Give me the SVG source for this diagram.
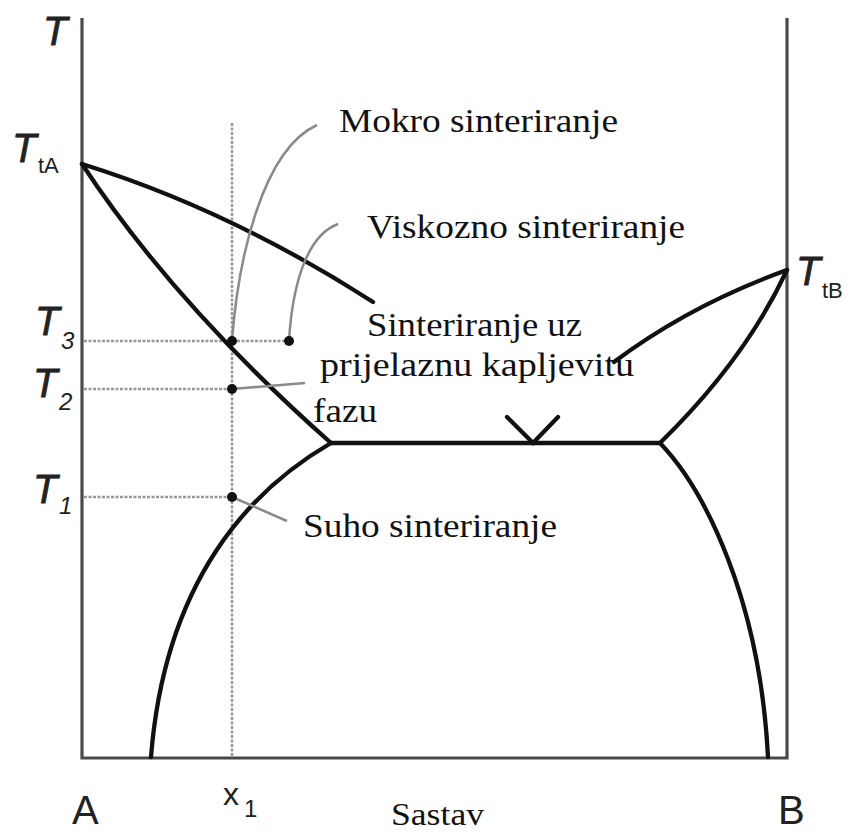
<svg xmlns="http://www.w3.org/2000/svg" width="851" height="833" viewBox="0 0 851 833">
<style>
.axis{stroke:#4a4a4a;stroke-width:3.2;fill:none}
.curve{stroke:#111;stroke-width:4.3;fill:none;stroke-linecap:round}
.dot-line{stroke:#999;stroke-width:2.5;stroke-dasharray:3,1.5;fill:none}
.leader{stroke:#8a8a8a;stroke-width:2.5;fill:none}
.lbl{font-family:"Liberation Serif","Times New Roman",serif;font-size:34px;fill:#111}
.tl{font-family:"Liberation Sans",Arial,sans-serif;font-style:italic;font-size:40px;fill:#222}
.tt{stroke:#222;stroke-width:0.8}
.sub{font-style:normal;font-size:22px;stroke:none}
.subi{font-size:24px;stroke:none}
.ax{font-family:"Liberation Sans",Arial,sans-serif;font-size:40px;fill:#222}
</style>
<rect width="851" height="833" fill="#fff"/>
<g id="axes">
<polyline class="axis" points="82,18 82,758 787,758 787,18"/>
</g>
<g id="guides">
<line class="dot-line" x1="232" y1="123" x2="232" y2="757"/>
<line class="dot-line" x1="84" y1="341" x2="289" y2="341"/>
<line class="dot-line" x1="84" y1="389" x2="232" y2="389"/>
<line class="dot-line" x1="84" y1="497" x2="232" y2="497"/>
</g>
<g id="phase-curves">
<path class="curve" d="M82,164 Q230,210 373,302"/>
<path class="curve" d="M82,164 Q175,305 331,443"/>
<line class="curve" x1="331" y1="443" x2="660" y2="443"/>
<polyline class="curve" points="507,417 533,443 558,417"/>
<path class="curve" d="M787,270 Q745,360 660,443"/>
<path class="curve" d="M787,270 Q690,305 614,362"/>
<path class="curve" d="M331,443 C250,490 165,580 151,757"/>
<path class="curve" d="M660,443 C705,490 760,600 768,757"/>
</g>
<g id="connectors">
<path class="leader" d="M232,341 C238,260 262,150 317,125"/>
<path class="leader" d="M289,341 C292,290 305,236 338,224"/>
<line class="leader" x1="232" y1="389" x2="305" y2="383"/>
<line class="leader" x1="232" y1="497" x2="287" y2="521"/>
</g>
<g id="points" fill="#111">
<circle cx="232" cy="341" r="5"/>
<circle cx="289" cy="341" r="5"/>
<circle cx="232" cy="389" r="5"/>
<circle cx="232" cy="497" r="5"/>
</g>
<g id="label-mokro"><text class="lbl" x="339" y="132" textLength="279" lengthAdjust="spacingAndGlyphs">Mokro sinteriranje</text></g>
<g id="label-viskozno"><text class="lbl" x="367" y="238" textLength="318" lengthAdjust="spacingAndGlyphs">Viskozno sinteriranje</text></g>
<g id="label-prijelazna">
<text class="lbl" x="367" y="336" textLength="215" lengthAdjust="spacingAndGlyphs">Sinteriranje uz</text>
<text class="lbl" x="320" y="376" textLength="314" lengthAdjust="spacingAndGlyphs">prijelaznu kapljevitu</text>
<text class="lbl" x="313" y="422" textLength="64" lengthAdjust="spacingAndGlyphs">fazu</text>
</g>
<g id="label-suho"><text class="lbl" x="303" y="537" textLength="254" lengthAdjust="spacingAndGlyphs">Suho sinteriranje</text></g>
<g id="axis-labels">
<text class="tl tt" x="43" y="45">T</text>
<text class="tl" x="12" y="162"><tspan class="tt">T</tspan><tspan class="sub" x="38" y="173">tA</tspan></text>
<text class="tl" x="796" y="285"><tspan class="tt">T</tspan><tspan class="sub" x="822" y="298">tB</tspan></text>
<text class="tl" x="35" y="335"><tspan class="tt">T</tspan><tspan class="subi" x="61" y="349">3</tspan></text>
<text class="tl" x="33" y="397"><tspan class="tt">T</tspan><tspan class="subi" x="59" y="410">2</tspan></text>
<text class="tl" x="33" y="503"><tspan class="tt">T</tspan><tspan class="subi" x="59" y="514">1</tspan></text>
<text class="ax" x="72" y="824">A</text>
<text class="ax" x="778" y="824">B</text>
<text class="ax" x="223" y="805" style="font-size:32px">x<tspan x="244" y="817" style="font-size:24px">1</tspan></text>
<text class="lbl" x="391" y="825" style="font-size:32px" textLength="93" lengthAdjust="spacingAndGlyphs">Sastav</text>
</g>
</svg>
